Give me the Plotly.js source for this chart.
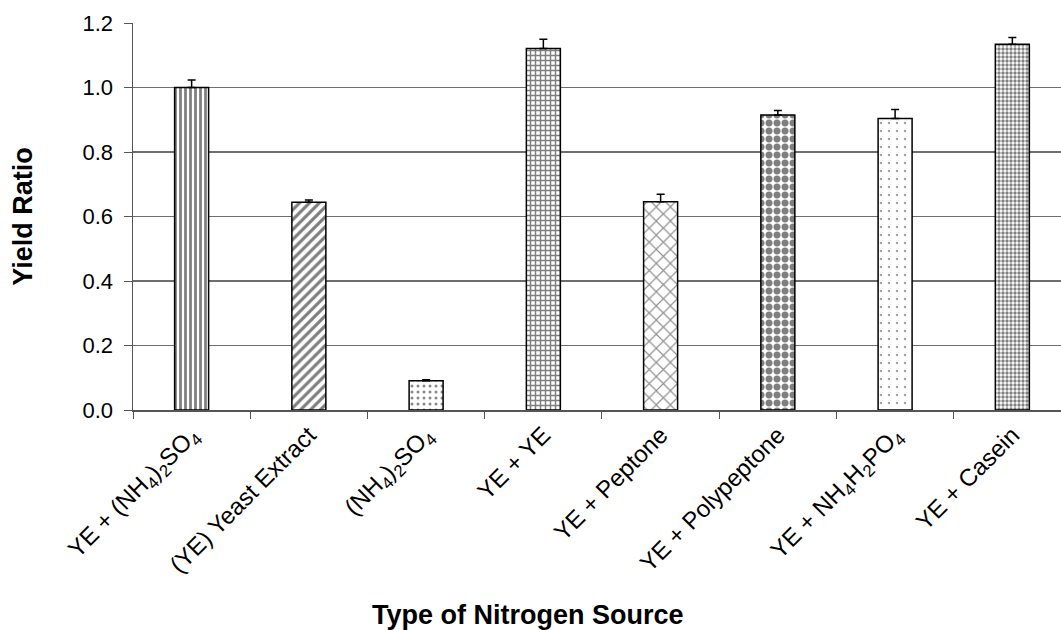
<!DOCTYPE html>
<html>
<head>
<meta charset="utf-8">
<script src="https://cdn.plot.ly/plotly-3.0.1.min.js"></script>
<style>html,body{margin:0;padding:0;background:#fff;}#chart{width:1061px;height:630px;}</style>
</head>
<body>
<div id="chart"></div>
<script>
const categories = [
  "YE + (NH<sub>4</sub>)<sub>2</sub>SO<sub>4</sub>",
  "(YE) Yeast Extract",
  "(NH<sub>4</sub>)<sub>2</sub>SO<sub>4</sub>",
  "YE + YE",
  "YE + Peptone",
  "YE + Polypeptone",
  "YE + NH<sub>4</sub>H<sub>2</sub>PO<sub>4</sub>",
  "YE + Casein"
];
const yieldRatio = [1.00, 0.644, 0.091, 1.121, 0.646, 0.915, 0.904, 1.134];
const errorPlus = [0.023, 0.007, 0.003, 0.029, 0.023, 0.014, 0.028, 0.021];
const xTitle = "<b>Type of Nitrogen Source</b>";
const yTitle = "<b>Yield Ratio</b>";

const trace = {
  type: "bar",
  x: categories,
  y: yieldRatio,
  width: 0.29,
  marker: {
    color: "#ffffff",
    line: {color: "#000000", width: 1.5},
    pattern: {
      shape: ["|", "/", ".", "+", "x", ".", ".", "."],
      size: [5, 7, 6, 5, 10, 8, 8, 4],
      solidity: [0.55, 0.45, 0.2, 0.5, 0.22, 0.6, 0.08, 0.55],
      fgcolor: ["#000", "#000", "#111", "#000", "#222", "#000", "#444", "#000"],
      bgcolor: "#ffffff",
      fillmode: "overlay"
    }
  },
  error_y: {
    type: "data",
    symmetric: false,
    array: errorPlus,
    arrayminus: [0,0,0,0,0,0,0,0],
    color: "#000",
    thickness: 1.5,
    width: 4
  },
  hoverinfo: "skip"
};

const layout = {
  width: 1061,
  height: 630,
  margin: {l: 133, r: 0, t: 23, b: 220},
  paper_bgcolor: "#ffffff",
  plot_bgcolor: "#ffffff",
  showlegend: false,
  font: {family: "Liberation Sans, Arial, sans-serif", color: "#000"},
  xaxis: {
    type: "category",
    range: [-0.5, 7.415],
    tickangle: -45,
    tickson: "boundaries",
    ticks: "outside",
    ticklen: 7,
    tickcolor: "#555",
    showline: true,
    linecolor: "#555",
    linewidth: 1.5,
    showgrid: false,
    tickfont: {size: 24, family: "Liberation Sans, Arial, sans-serif", color: "#000"}
  },
  yaxis: {
    range: [0, 1.2],
    dtick: 0.2,
    tickformat: ".1f",
    ticks: "outside",
    ticklen: 8,
    tickcolor: "#555",
    ticklabelstandoff: 6,
    showline: true,
    linecolor: "#555",
    linewidth: 1.5,
    showgrid: true,
    gridcolor: "#6e6e6e",
    gridwidth: 1.2,
    zeroline: false,
    tickfont: {size: 22, family: "Liberation Sans, Arial, sans-serif", color: "#000"},
    title: {text: yTitle, font: {size: 27}, standoff: 42}
  },
  annotations: [{
    text: xTitle,
    xref: "paper", yref: "paper",
    x: (528 - 133) / 928, y: (410 - 615) / 387,
    xanchor: "center", yanchor: "middle",
    showarrow: false,
    font: {size: 27, family: "Liberation Sans, Arial, sans-serif", color: "#000"}
  }]
};

Plotly.newPlot("chart", [trace], layout, {displayModeBar: false, staticPlot: true});
</script>
</body>
</html>
